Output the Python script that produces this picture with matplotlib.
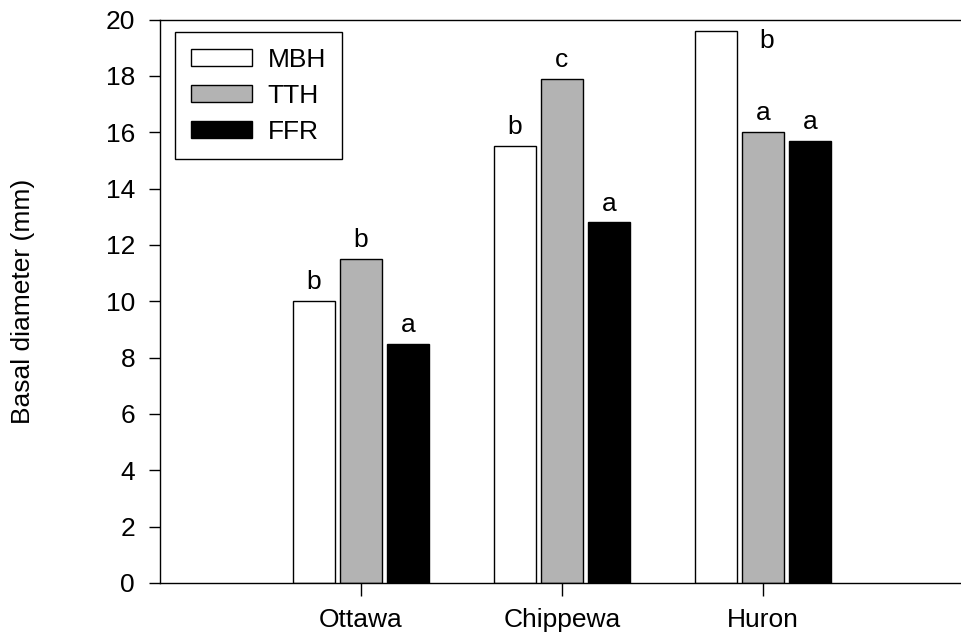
import matplotlib
matplotlib.use("Agg")
import matplotlib.pyplot as plt
import numpy as np

plt.rcParams['font.family'] = ['Liberation Sans', 'DejaVu Sans']

# basal diameter per tribe site and treatment
sites = ["Ottawa", "Chippewa", "Huron"]
treatments = ["MBH", "TTH", "FFR"]
mbh = [10.0, 15.5, 19.6]
tth = [11.5, 17.9, 16.0]
ffr = [8.5, 12.8, 15.7]
mbh_letters = ["b", "b", "b"]
tth_letters = ["b", "c", "a"]
ffr_letters = ["a", "a", "a"]

colors = ["white", "#b3b3b3", "black"]
fs = 19

fig = plt.figure(figsize=(9.61, 6.35), dpi=100)
ax = fig.add_axes([160/961, 52/635, 804/961, 563.5/635])

x = np.arange(1, len(sites) + 1)
step = 0.234
width = 0.212
series = [mbh, tth, ffr]
letters = [mbh_letters, tth_letters, ffr_letters]
for i in range(3):
    pos = x + (i - 1) * step
    ax.bar(pos, series[i], width, color=colors[i], edgecolor="black",
           linewidth=1.0, label=treatments[i])
    for j in range(len(sites)):
        if i == 0 and j == 2:
            # top bar: letter sits beside the bar
            ax.text(pos[j] + 0.25, series[i][j] - 0.6, letters[i][j],
                    ha="center", va="baseline", fontsize=fs)
        else:
            ax.annotate(letters[i][j], (pos[j], series[i][j]),
                        xytext=(0, 8.5), textcoords="offset points",
                        ha="center", va="baseline", fontsize=fs)

ax.set_xlim(0, 4)
ax.set_ylim(0, 20)
ax.set_yticks(np.arange(0, 21, 2))
ax.set_xticks(x)
ax.set_xticklabels(sites)
ax.tick_params(axis="both", direction="out", labelsize=fs, width=1.0)
ax.tick_params(axis="y", length=8, pad=10)
ax.tick_params(axis="x", length=9, pad=9)
for s in ax.spines.values():
    s.set_linewidth(1.0)
ax.spines["right"].set_visible(False)
ax.set_ylabel("Basal diameter (mm)", fontsize=fs)
ax.yaxis.set_label_coords(-0.1555, 0.5)

leg = ax.legend(loc="upper left", bbox_to_anchor=(175/961, 1 - 32/635),
                bbox_transform=fig.transFigure, borderaxespad=0,
                fancybox=False, edgecolor="black", framealpha=1,
                fontsize=fs, handlelength=2.31, handleheight=0.64,
                handletextpad=0.6, labelspacing=0.45, borderpad=0.6)
leg.get_frame().set_linewidth(1.0)

fig.savefig("out.png", dpi=100)
